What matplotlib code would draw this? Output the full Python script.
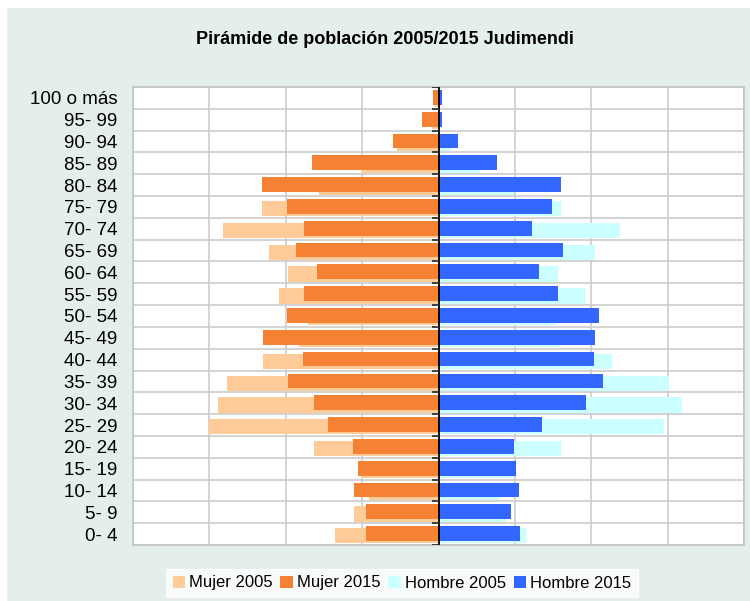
import numpy as np
import matplotlib
matplotlib.use("Agg")
import matplotlib.pyplot as plt
from matplotlib.patches import Rectangle

plt.rcParams['font.family'] = ['Liberation Sans', 'DejaVu Sans']

# categories bottom -> top
ages = ["0- 4", "5- 9", "10- 14", "15- 19", "20- 24", "25- 29", "30- 34", "35- 39",
        "40- 44", "45- 49", "50- 54", "55- 59", "60- 64", "65- 69", "70- 74", "75- 79",
        "80- 84", "85- 89", "90- 94", "95- 99", "100 o más"]

mujer_2005 = [136, 110, 91, 101, 163, 301, 289, 277, 230, 183, 171, 209, 197, 222, 282, 231,
              157, 101, 54, 9, 4]
mujer_2015 = [95, 95, 110, 105, 112, 145, 163, 197, 178, 230, 199, 176, 159, 186, 176, 199,
              231, 166, 60, 22, 7]
hombre_2005 = [114, 88, 81, 99, 161, 295, 319, 302, 227, 161, 154, 192, 157, 205, 237, 161,
               99, 54, 16, 3, 1]
hombre_2015 = [107, 95, 105, 102, 99, 136, 193, 216, 204, 205, 210, 157, 131, 163, 122, 149,
               161, 76, 25, 5, 4]

series_labels = ["Mujer 2005", "Mujer 2015", "Hombre 2005", "Hombre 2015"]
colors = ["#FFCC99", "#F58232", "#CCFFFF", "#3366FF"]

W, H = 750, 601
fig = plt.figure(figsize=(W / 100, H / 100), dpi=100)
fig.patch.set_facecolor("white")
fig.add_artist(Rectangle((7 / W, 0), 1, 1 - 8 / H, transform=fig.transFigure,
                         facecolor="#E4EEEC", edgecolor="none", zorder=0))

ax = fig.add_axes([133 / W, 1 - 545 / H, (744 - 133) / W, (545 - 87) / H])
ax.set_facecolor("white")

y = np.arange(len(ages))
h = 0.70
off = 0.08
ax.barh(y - off, -np.array(mujer_2005), height=h, color=colors[0], label=series_labels[0], zorder=2)
ax.barh(y - off, hombre_2005, height=h, color=colors[2], label=series_labels[2], zorder=2)
ax.barh(y + off * 0.3, -np.array(mujer_2015), height=h * 0.97, color=colors[1], label=series_labels[1], zorder=3)
ax.barh(y + off * 0.3, hombre_2015, height=h * 0.97, color=colors[3], label=series_labels[3], zorder=3)

ax.set_xlim(-400, 400)
ax.set_ylim(-0.5, len(ages) - 0.5)
ax.set_xticks(np.arange(-400, 401, 100))
ax.set_xticklabels([])
ax.tick_params(axis="x", length=0)
ax.set_yticks(y)
ax.set_yticklabels(ages, fontsize=13.5)
ax.tick_params(axis="y", length=0, pad=11)
ax.set_yticks(np.arange(len(ages) + 1) - 0.5, minor=True)
ax.tick_params(axis="y", which="minor", length=0)
ax.grid(axis="x", which="major", color="#CCCCCC", lw=1.2, zorder=1)
ax.grid(axis="y", which="minor", color="#CCCCCC", lw=1.2, zorder=1)
ax.set_axisbelow(True)
for s in ax.spines.values():
    s.set_color("#C4C4C4")
    s.set_linewidth(1.2)

ax.axvline(0, color="black", lw=1.3, zorder=4)
ax.hlines(np.arange(len(ages) + 1) - 0.5, -8, 0, color="#333333", lw=1.3, zorder=4)

fig.text(385 / W, 1 - 40 / H, "Pirámide de población 2005/2015 Judimendi",
         ha="center", va="center", fontsize=13, fontweight="bold")

handles, labels = ax.get_legend_handles_labels()
order = [labels.index(l) for l in series_labels]
leg = fig.legend([handles[i] for i in order], [labels[i] for i in order],
                 loc="center", bbox_to_anchor=(402 / W, 1 - 583 / H), ncol=4,
                 fontsize=12, frameon=True, fancybox=False, handlelength=0.75,
                 handleheight=0.75, handletextpad=0.25, columnspacing=0.45,
                 borderpad=0.4)
leg.get_frame().set_facecolor("white")
leg.get_frame().set_edgecolor("white")

fig.savefig("out.png", dpi=100, facecolor=fig.get_facecolor())
